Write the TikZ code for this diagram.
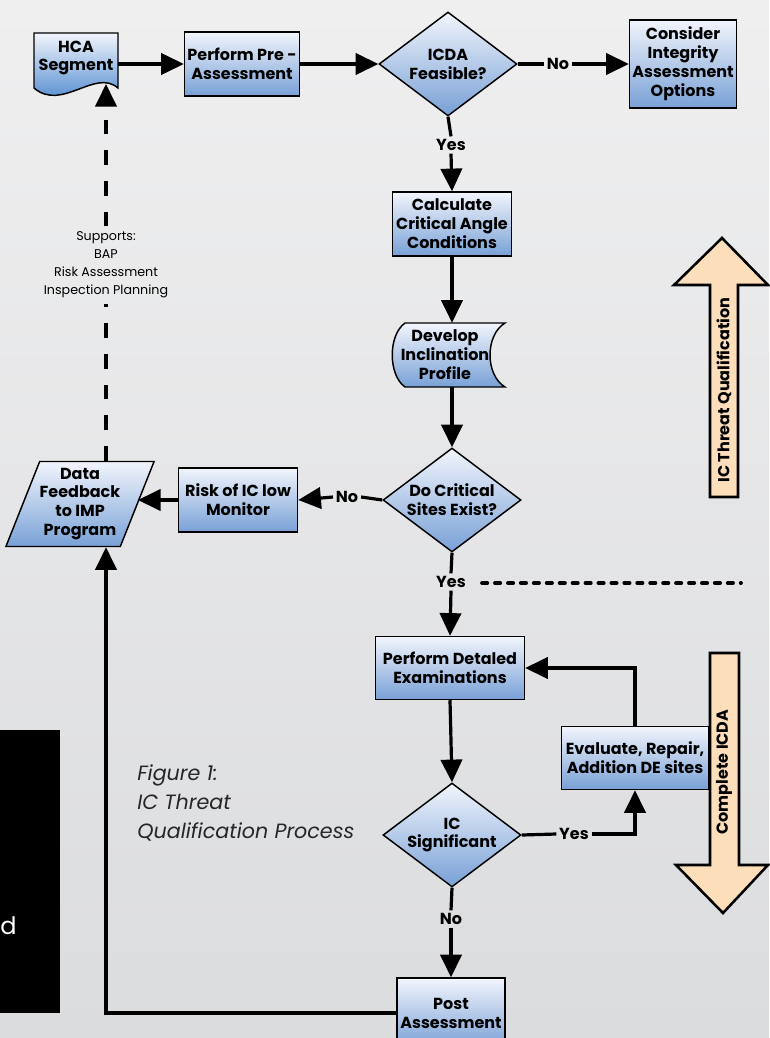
\documentclass[tikz,border=0pt]{standalone}
\usepackage{fontspec}
\setmainfont{Poppins}
\usepackage{tikz}
\usetikzlibrary{arrows.meta, shapes.geometric}
\usepackage{xcolor}

\definecolor{bgtop}{RGB}{239,239,240}
\definecolor{bgbot}{RGB}{219,220,222}
\definecolor{boxtop}{RGB}{242,245,252}
\definecolor{boxbot}{RGB}{120,160,214}
\definecolor{docbot}{RGB}{56,122,200}
\definecolor{peach}{RGB}{252,222,186}

\newcommand{\boxfont}{\bfseries\fontsize{12}{14.2}\selectfont}

\tikzset{
  box/.style={draw, line width=1.1pt, top color=boxtop, bottom color=boxbot,
    align=center, font=\boxfont, inner sep=1pt},
  txt/.style={align=center, font=\boxfont, inner sep=1pt},
  dia/.style={diamond, draw, line width=1.1pt, top color=boxtop, bottom color=boxbot,
    inner sep=0pt, minimum width=103.5pt, minimum height=78pt},
  para/.style={trapezium, trapezium left angle=65, trapezium right angle=115,
    trapezium stretches=true, draw, line width=1.1pt, top color=boxtop,
    bottom color=boxbot, align=center, font=\boxfont, inner sep=0pt,
    minimum width=108.75pt, minimum height=63.75pt},
  shapefill/.style={draw, line width=1.1pt, top color=boxtop, bottom color=boxbot},
  flow/.style={line width=2.4pt, -{Triangle[length=17pt,width=16pt]}},
  wire/.style={line width=2.4pt},
  ans/.style={font=\boxfont, inner sep=2pt},
  feedback/.style={line width=2.4pt, dash pattern=on 11pt off 12pt},
  sepline/.style={line width=2.8pt, dash pattern=on 4pt off 5.7pt, line cap=round},
  blockarr/.style={draw, line width=1.9pt, fill=peach, line join=miter}
}

\begin{document}
\begin{tikzpicture}[x=0.75pt, y=-0.75pt]
  \useasboundingbox (0,0) rectangle (769,1038);
  \shade[top color=bgtop, bottom color=bgbot] (0,0) rectangle (769,1038);

  % cut page text on the left
  \fill[black] (0,730) rectangle (60,1013);
  \node[anchor=base west, text=white, inner sep=0pt, font=\fontsize{18}{22}\selectfont] (cutd) at (0,934) {d};

  % shapes drawn by hand
  \draw[shapefill, bottom color=docbot] (34,33) -- (118,33) -- (118,88)
    .. controls (95,68) and (62,112) .. (34,88) -- cycle;
  \draw[shapefill] (405,323) -- (505,323) .. controls (485,335) and (485,375) .. (505,387)
    -- (405,387) .. controls (388,375) and (388,335) .. (405,323) -- cycle;
  \coordinate (hcatip) at (106,84);

  % top row
  \node[txt, minimum width=63pt] (hca) at (76,58) {HCA\\Segment};
  \node[box, minimum width=86.25pt, minimum height=48pt] (pre) at (242,64) {Perform Pre -\\Assessment};
  \node[dia, label={[txt]center:{ICDA\\Feasible?}}] (feas) at (448,64) {};
  \node[box, minimum width=80.25pt, minimum height=66pt] (cons) at (683,64) {Consider\\Integrity\\Assessment\\Options};

  % qualification column
  \node[box, minimum width=89.25pt, minimum height=48pt] (calc) at (452,224) {Calculate\\Critical Angle\\Conditions};
  \node[txt, minimum width=84pt, minimum height=48pt] (dev) at (445,355) {Develop\\Inclination\\Profile};
  \node[dia, label={[txt]center:{Do Critical\\Sites Exist?}}] (crit) at (452,500) {};
  \node[box, minimum width=89.25pt, minimum height=48pt] (risk) at (238,500) {Risk of IC low\\Monitor};
  \node[para] (feed) at (80,504) {Data\\Feedback\\to IMP\\Program};

  % detailed examination
  \node[box, minimum width=111.75pt, minimum height=47.25pt] (exam) at (450,668) {Perform Detaled\\Examinations};
  \node[box, minimum width=110.25pt, minimum height=47.25pt] (eval) at (635,758) {Evaluate, Repair,\\Addition DE sites};
  \node[dia, label={[txt]center:{IC\\Significant}}] (sig) at (452,835) {};
  \node[box, minimum width=81pt, minimum height=52.5pt] (post) at (451,1013) {Post\\Assessment};

  % answers
  \node[ans] (no1) at (558,64) {No};
  \node[ans] (yes1) at (451,145) {Yes};
  \node[ans] (no2) at (347,497) {No};
  \node[ans] (yes2) at (451,582) {Yes};
  \node[ans] (yes3) at (574,834) {Yes};
  \node[ans] (no3) at (451,919) {No};

  \node[align=center, inner sep=4pt, font=\fontsize{9.5}{13.5}\selectfont] (supp) at (106,265)
    {Supports:\\BAP\\Risk Assessment\\Inspection Planning};

  \node[anchor=north west, align=left, inner sep=0pt, text=black!85,
    font=\itshape\fontsize{15.5}{22}\selectfont] (cap) at (137,764)
    {Figure 1:\\IC Threat\\Qualification Process};

  % connectors
  \draw[flow] (hca.east |- pre.west) -- (pre.west);
  \draw[flow] (pre.east) -- (feas.west);
  \draw[wire] (feas.east) -- (no1.west);
  \draw[flow] (no1.east) -- (cons.west);
  \draw[wire] (feas.south) -- (yes1.north);
  \draw[flow] (yes1.south) -- (calc.north);
  \draw[flow] (calc.south) -- (calc.south |- dev.north);
  \draw[flow] (crit.north |- dev.south) -- (crit.north);
  \draw[wire] (crit.west) -- (no2.east);
  \draw[flow] (no2.west) -- (risk.east);
  \draw[flow] (risk.west) -- (feed.east |- risk.west);
  \draw[wire] (crit.south) -- (yes2.north);
  \draw[flow] (yes2.south) -- (exam.north);
  \draw[flow] (exam.south) -- (sig.north);
  \draw[wire] (sig.east) -- (yes3.west);
  \draw[flow] (yes3.east) -| (eval.south);
  \draw[flow] (eval.north) |- (exam.east);
  \draw[wire] (sig.south) -- (no3.north);
  \draw[flow] (no3.south) -- (post.north);
  \draw[flow] (post.west) -| (supp |- feed.south);
  \draw[feedback] (supp |- feed.north) -- (supp.south);
  \draw[feedback, -{Triangle[length=17pt,width=16pt]}] (supp.north) -- (hcatip);

  % separator
  \coordinate (sepa) at (482,583);
  \coordinate (sepb) at (741,583);
  \draw[sepline] (sepa) -- (sepb);

  % block arrows
  \draw[blockarr] (710,497) -- (710,285) -- (674,285) -- (722,238) -- (768,285)
    -- (738,285) -- (738,497) -- cycle;
  \node[txt, rotate=90] (qual) at (724,390) {IC Threat Qualification};
  \draw[blockarr] (710,653) -- (739,653) -- (739,865) -- (768,865) -- (723,913)
    -- (676,865) -- (710,865) -- cycle;
  \node[txt, rotate=90] (full) at (724,772) {Complete ICDA};
\end{tikzpicture}
\end{document}
